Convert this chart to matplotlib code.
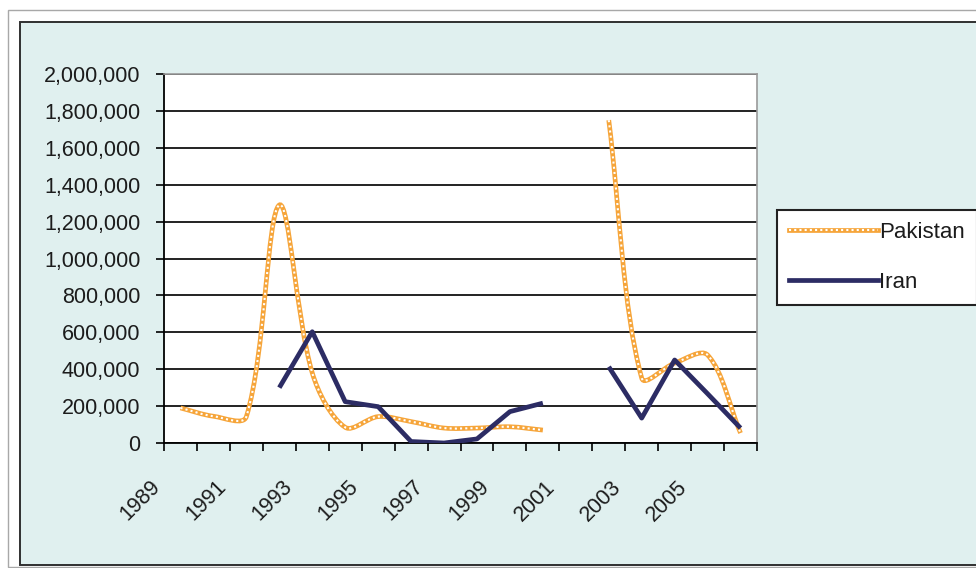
import matplotlib
matplotlib.use('Agg')
import matplotlib.pyplot as plt
import matplotlib.transforms as mtransforms
import numpy as np
from matplotlib.path import Path
from matplotlib.patches import PathPatch, Rectangle
from matplotlib.lines import Line2D
from matplotlib.ticker import FuncFormatter

# data (None = no value)
years = list(range(1989, 2007))
pakistan = [190000, 145000, 143000, 1290000, 380000, 85000, 143000, 116000, 81000,
            81000, 88000, 70000, None, 1750000, 352000, 433000, 477000, 54000]
iran = [None, None, None, 300000, 603000, 224000, 197000, 8000, 0,
        22000, 170000, 216000, None, 413000, 135000, 450000, 267000, 81000]

ORANGE = '#F6A53A'
NAVY = '#2C2C64'
BG = '#E0F0EF'
TXT = '#1c1c1c'

plt.rcParams['font.family'] = ['Liberation Sans', 'DejaVu Sans']

AX_W, AX_H = 593, 369   # plot area in pixels
YMAX = 2000000


def smooth_path(xs, ys):
    """Excel-like smoothed line: Bezier segments, control arms scaled by chord length."""
    sx = AX_W / len(xs)
    sy = AX_H / YMAX
    runs, cur = [], []
    for x, y in zip(xs, ys):
        if y is None:
            if cur:
                runs.append(cur)
            cur = []
        else:
            cur.append((x, y))
    if cur:
        runs.append(cur)

    def dist(a, b):
        return np.hypot((a[0] - b[0]) * sx, (a[1] - b[1]) * sy)

    verts, codes = [], []
    for run in runs:
        p = np.array(run, float)
        n = len(p)
        verts.append(p[0])
        codes.append(Path.MOVETO)
        for i in range(n - 1):
            p0 = p[i - 1] if i > 0 else p[i]
            p3 = p[i + 2] if i + 2 < n else p[i + 1]
            d01, d12, d23 = dist(p0, p[i]), dist(p[i], p[i + 1]), dist(p[i + 1], p3)
            f1 = d12 / (d01 + d12) / 3 if d01 + d12 > 0 else 0
            f2 = d12 / (d12 + d23) / 3 if d12 + d23 > 0 else 0
            c1 = p[i] + (p[i + 1] - p0) * f1
            c2 = p[i + 1] - (p3 - p[i]) * f2
            verts += [c1, c2, p[i + 1]]
            codes += [Path.CURVE4] * 3
    return Path(verts, codes)


fig = plt.figure(figsize=(9.76, 5.68), dpi=100, facecolor='white')

# chart area frames (behind the axes)
fig.add_artist(Rectangle((8 / 976, 1 / 568), 1.2, 557 / 568, transform=fig.transFigure,
                         facecolor='white', edgecolor='#a8a8a8', lw=1.0, zorder=-10))
fig.add_artist(Rectangle((20 / 976, 3 / 568), 1.2, 543 / 568, transform=fig.transFigure,
                         facecolor=BG, edgecolor='#303030', lw=1.4, zorder=-9))

ax = fig.add_axes([164 / 976, 125 / 568, AX_W / 976, AX_H / 568])
ax.set_facecolor('white')
x = np.arange(len(years))

# Pakistan: smoothed "square dot" line
pk_path = smooth_path(x, pakistan)
ax.add_patch(PathPatch(pk_path, fill=False, edgecolor=ORANGE, lw=3.4, zorder=3))
ax.add_patch(PathPatch(pk_path, fill=False, edgecolor='white', lw=1.5,
                       linestyle=(0, (1.0, 1.5)), zorder=4))

# Iran: plain thick line
iran_vals = np.array([np.nan if v is None else v for v in iran], float)
ax.plot(x, iran_vals, color=NAVY, lw=3.4, solid_joinstyle='round',
        solid_capstyle='butt', zorder=5)

ax.set_xlim(-0.5, len(years) - 0.5)
ax.set_ylim(0, YMAX)
ax.set_yticks(np.arange(0, YMAX + 1, 200000))
ax.yaxis.set_major_formatter(FuncFormatter(lambda v, p: f'{int(v):,}'))
ax.yaxis.grid(True, color='#111111', lw=1.3)
ax.set_axisbelow(True)

ax.set_xticks(np.arange(-0.5, len(years), 1), minor=True)
ax.set_xticks(x[::2])
ax.set_xticklabels([str(y) for y in years[::2]], rotation=45, ha='right', va='top')

ax.tick_params(axis='y', length=6, width=1.2, pad=11, labelsize=15.5,
               labelcolor=TXT, color='black')
ax.tick_params(axis='x', which='major', length=0, pad=24, labelsize=15.5, labelcolor=TXT)
ax.tick_params(axis='x', which='minor', length=6, width=1.2, color='black')

shift = mtransforms.ScaledTranslation(-16 / 100, 0, fig.dpi_scale_trans)
for lbl in ax.get_xticklabels():
    lbl.set_transform(lbl.get_transform() + shift)

for s in ['left', 'bottom']:
    ax.spines[s].set_color('black')
    ax.spines[s].set_linewidth(1.3)
for s in ['top', 'right']:
    ax.spines[s].set_color('#9a9a9a')
    ax.spines[s].set_linewidth(1.2)

# legend
pk_h = (Line2D([], [], color=ORANGE, lw=3.4),
        Line2D([], [], color='white', lw=1.5, linestyle=(0, (1.0, 1.5))))
ir_h = Line2D([], [], color=NAVY, lw=3.4)
leg = fig.legend([pk_h, ir_h], ['Pakistan', 'Iran'], loc='upper left',
                 bbox_to_anchor=(777 / 976, 358 / 568), bbox_transform=fig.transFigure,
                 borderaxespad=0, borderpad=0.55, handlelength=4.0, handletextpad=0.05,
                 labelspacing=1.3, fontsize=16, fancybox=False, framealpha=1,
                 facecolor='white', edgecolor='#222222')
leg.get_frame().set_linewidth(1.5)
for t in leg.get_texts():
    t.set_color(TXT)

fig.savefig('out.png', dpi=100, facecolor=fig.get_facecolor())
